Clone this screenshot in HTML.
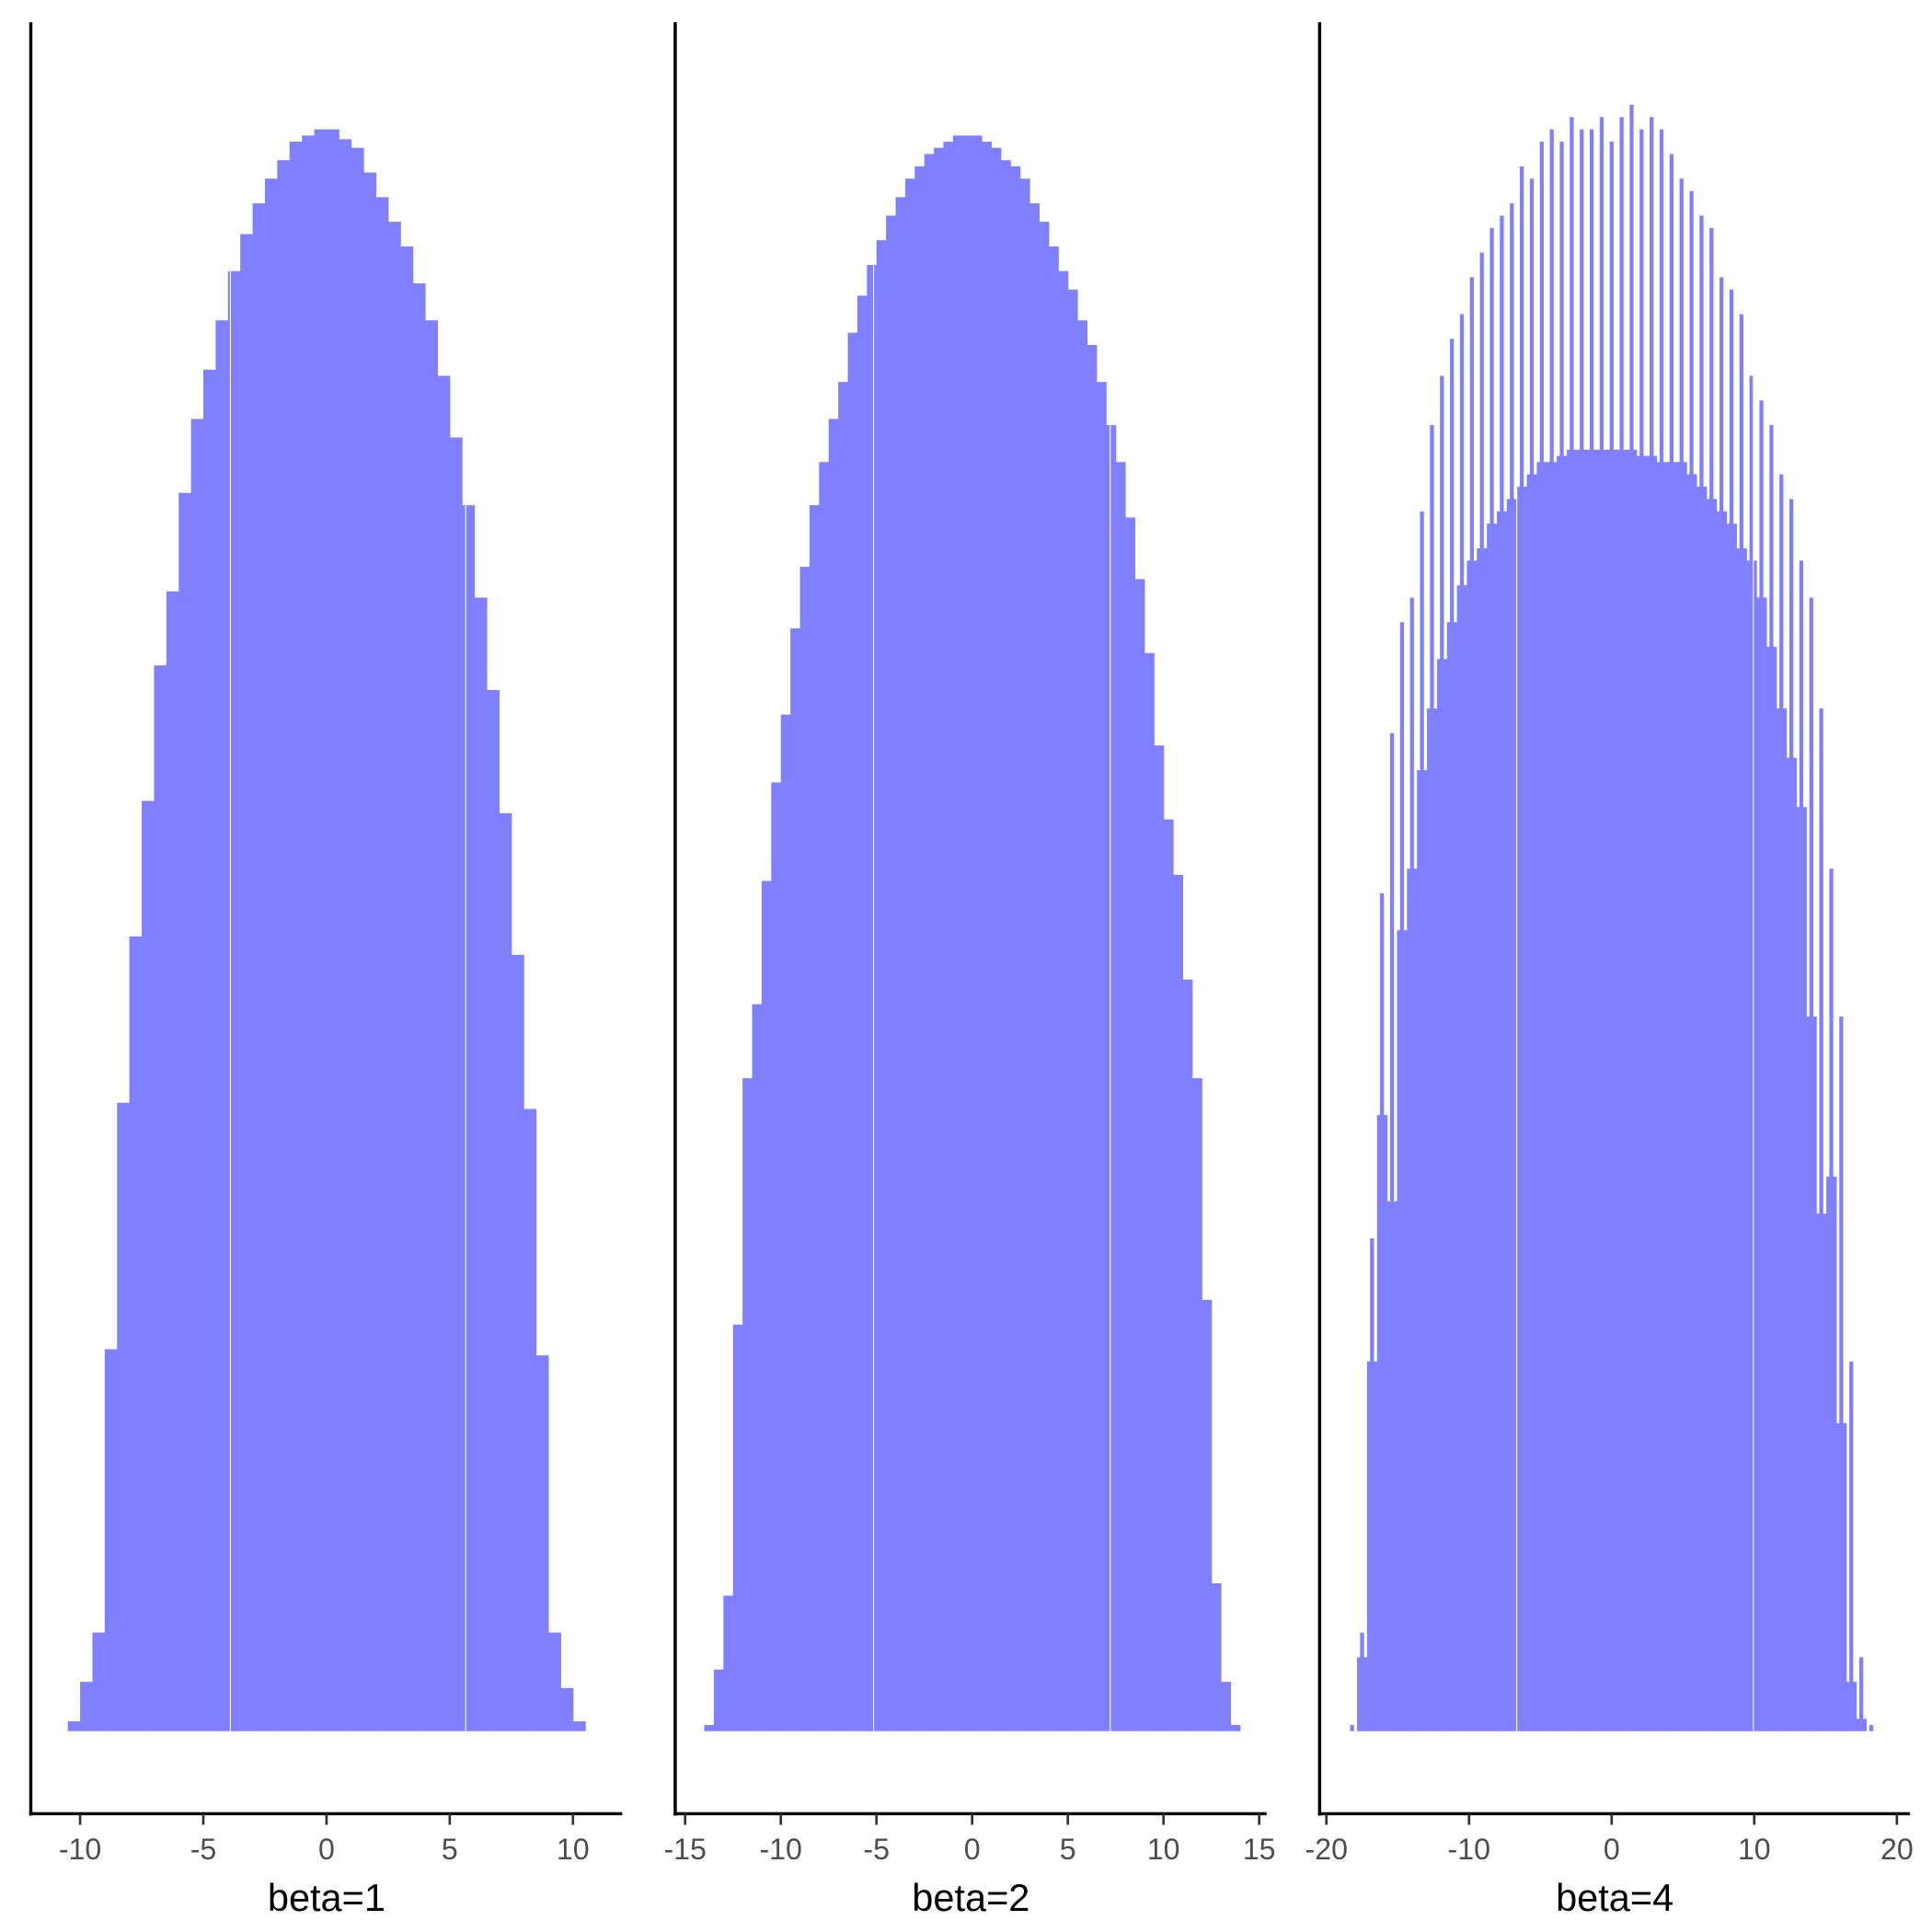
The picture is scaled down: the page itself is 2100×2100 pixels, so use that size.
<!DOCTYPE html>
<html><head><meta charset="utf-8"><style>html,body{margin:0;padding:0;background:#fff}svg{display:block}</style></head>
<body>
<svg id="chart" width="2100" height="2100" viewBox="0 0 1568 1568" xmlns="http://www.w3.org/2000/svg" font-family="Liberation Sans, sans-serif"></svg>
<script>
// Panel 1 (beta=1): bins of width 0.5 from -10.5
const p1Start = -10.5;
const p1Width = 0.5;
const p1Counts = [8,40,80,310,510,645,755,865,925,1005,1065,1105,1145,1185,1215,1240,1260,1275,1290,1295,1300,1300,1292,1285,1265,1245,1225,1205,1175,1145,1100,1050,995,920,845,745,630,505,305,80,35,8];
const p1Ticks = [-10,-5,0,5,10];
// Panel 2 (beta=2)
const p2Start = -14;
const p2Width = 0.5;
const p2Counts = [5,50,110,330,530,590,690,770,825,895,945,995,1030,1065,1095,1135,1165,1190,1210,1230,1245,1260,1270,1280,1285,1290,1295,1295,1295,1290,1285,1275,1270,1260,1240,1225,1205,1185,1170,1145,1125,1095,1060,1030,985,935,875,800,740,695,610,530,350,120,40,5];
const p2Ticks = [-15,-10,-5,0,5,10,15];
// Panel 3 (beta=4): spiky histogram, groups of width 0.7
const p3Start = -18.55;
const p3Width = 0.7;
const p3Peaks = [5,80,400,680,810,900,920,990,1060,1100,1130,1150,1180,1200,1220,1230,1240,1270,1260,1290,1300,1290,1310,1300,1300,1310,1290,1310,1320,1300,1310,1300,1280,1260,1250,1230,1220,1180,1170,1150,1100,1080,1060,1020,1000,950,920,830,700,580,300,60,5];
const p3Valleys = [0,60,300,500,430,650,700,780,830,870,900,930,950,960,980,990,1000,1010,1020,1030,1030,1035,1040,1040,1040,1040,1040,1040,1040,1035,1035,1030,1030,1030,1020,1010,1000,990,980,960,950,920,880,830,790,750,580,420,450,250,40,10,0];
const p3Ticks = [-20,-10,0,10,20];

const svg = document.getElementById('chart');
const NS = 'http://www.w3.org/2000/svg';
const BASE = 1405;
function mk(tag, attrs){const e=document.createElementNS(NS,tag);for(const k in attrs)e.setAttribute(k,attrs[k]);svg.appendChild(e);return e;}

const panels = [
 {name:'beta-1', title:'beta=1', axisX:25, right:505, zeroPx:265, ppu:20, whites:[187,378]},
 {name:'beta-2', title:'beta=2', axisX:548, right:1028, zeroPx:789, ppu:15.53, whites:[709,901]},
 {name:'beta-4', title:'beta=4', axisX:1071, right:1550, zeroPx:1308, ppu:11.575, whites:[1231,1423]}
];
function yScale(c){return BASE - c;}

function drawBins(p, start, width, counts, label){
  const xs = v => p.zeroPx + v*p.ppu;
  counts.forEach((c,i)=>{
    const x0 = xs(start + i*width), x1 = xs(start + (i+1)*width);
    const r = mk('rect',{x:x0,y:yScale(c),width:x1-x0+0.4,height:BASE-yScale(c),fill:'#8080ff'});
    
    
  });
}
function drawSpiky(p){
  const xs = v => p.zeroPx + v*p.ppu;
  p3Valleys.forEach((c,i)=>{
    const x0 = xs(p3Start + i*p3Width), x1 = xs(p3Start + (i+1)*p3Width);
    const r = mk('rect',{x:x0,y:yScale(c),width:x1-x0+0.4,height:BASE-yScale(c),fill:'#8080ff'});
    
    
  });
  p3Peaks.forEach((c,i)=>{
    const xc = xs(p3Start + (i+0.5)*p3Width);
    const r = mk('rect',{x:xc-1.6,y:yScale(c),width:3.2,height:BASE-yScale(c),fill:'#8080ff'});
    
    
  });
}

drawBins(panels[0], p1Start, p1Width, p1Counts, 'beta-1');
drawBins(panels[1], p2Start, p2Width, p2Counts, 'beta-2');
drawSpiky(panels[2]);

const tickSets = [p1Ticks, p2Ticks, p3Ticks];
panels.forEach((p,pi)=>{
  p.whites.forEach(w=>{
    const l = mk('line',{x1:w,x2:w,y1:60,y2:BASE,stroke:'#fff','stroke-width':0.8});
    
    
  });
  const ya = mk('line',{x1:p.axisX,x2:p.axisX,y1:18,y2:1473.5,stroke:'#000','stroke-width':2.6});
  
  
  const xa = mk('line',{x1:p.axisX-1.3,x2:p.right,y1:1472,y2:1472,stroke:'#000','stroke-width':2.6});
  
  
  tickSets[pi].forEach(t=>{
    const x = p.zeroPx + t*p.ppu;
    const tk = mk('line',{x1:x,x2:x,y1:1472,y2:1481,stroke:'#333','stroke-width':2});
    
    
    const tx = mk('text',{x:x,y:1509,'text-anchor':'middle','font-size':24,fill:'#4d4d4d'});
    tx.textContent = String(t);
    
    
  });
  const title = mk('text',{x:(p.axisX+p.right)/2,y:1551,'text-anchor':'middle','font-size':31,fill:'#000'});
  title.textContent = p.title;
  
  
});
</script>
</body></html>
